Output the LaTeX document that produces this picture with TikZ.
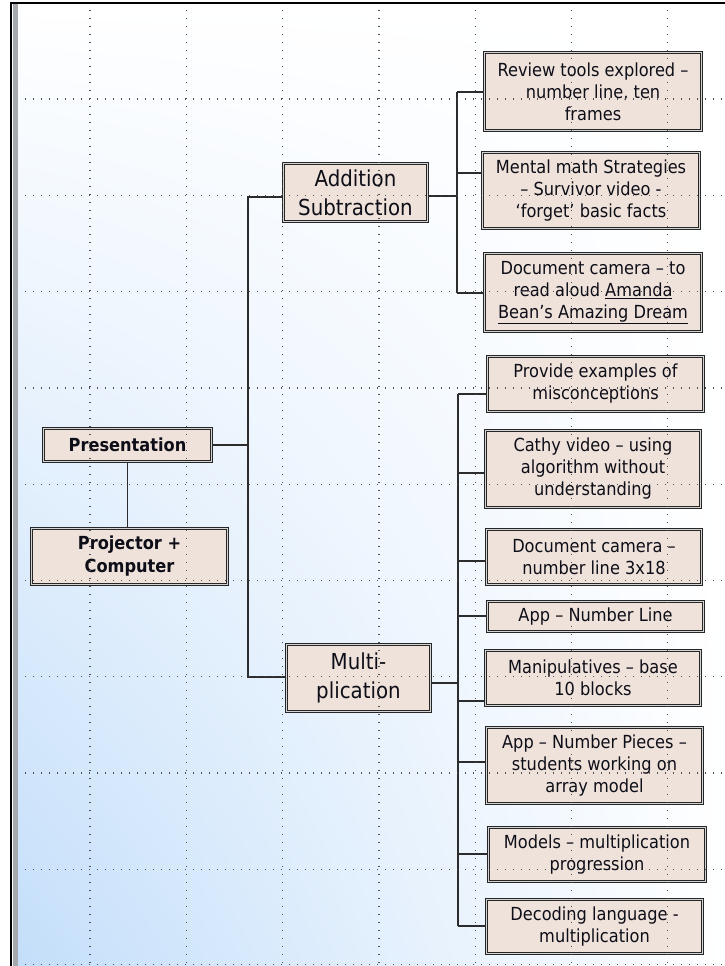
\documentclass[tikz,border=0pt]{standalone}
\usepackage{fontspec}
\usetikzlibrary{shadings}
\setmainfont{DejaVu Sans}[FakeStretch=0.9]
\definecolor{boxfill}{HTML}{EEE2DA}
\definecolor{boxline}{HTML}{262626}
\definecolor{boxgap}{HTML}{D4D4D4}
\definecolor{ink}{HTML}{0E0E18}
\definecolor{linegray}{HTML}{2C2C2C}
\definecolor{dotgray}{HTML}{505050}
\definecolor{skyblue}{HTML}{C3DEFA}
\definecolor{edgegray}{HTML}{A5A9AD}
\begin{document}
\begin{tikzpicture}[x=1pt,y=-1pt,
  conn/.style={draw=linegray, line width=1.4pt},
  box/.style={draw=boxline, double=boxgap, double distance=1.3pt, line width=1pt,
    fill=boxfill, inner sep=0pt, align=center, text=ink},
  small/.style={box, font=\fontsize{18}{22}\selectfont},
  big/.style={box, font=\fontsize{22}{29}\selectfont},
  heavy/.style={box, font=\bfseries\fontsize{18}{23}\selectfont},
  gridline/.style={draw=dotgray, line width=1.3pt, dash pattern=on 1.3pt off 6.7pt}]
\useasboundingbox (0,0) rectangle (725,966);

% page background with its blue wash
\fill[white] (0,0) rectangle (725,966);
\shade[upper left=white, upper right=white, lower left=skyblue, lower right=white]
  (13,3) rectangle (725,966);
\fill[edgegray] (12.5,3) rectangle (18,966);
\draw[black, line width=2pt] (11,2) -- (11,966);
\draw[black, line width=2pt] (10,3) -- (725,3);

% root and its device
\node[heavy, minimum width=168, minimum height=33] (pres) at (127.5,445) {Presentation};
\node[heavy, minimum width=196, minimum height=56] (proj) at (129.5,556.5) {Projector +\\Computer};

% topic boxes
\node[big, minimum width=144, minimum height=58] (add) at (355.5,192.5) {Addition\\Subtraction};
\node[big, minimum width=144, minimum height=67] (mul) at (358.5,678) {Multi-\\plication};

% addition / subtraction resources
\node[small, minimum width=217, minimum height=78] (review) at (593,91.5)
  {Review tools explored –\\number line, ten\\frames};
\node[small, minimum width=217, minimum height=76] (mental) at (591,190.5)
  {Mental math Strategies\\– Survivor video -\\‘forget’ basic facts};
\node[small, minimum width=217, minimum height=78] (camA) at (593,292.5)
  {Document camera – to\\read aloud \underline{Amanda}\\\underline{Bean’s Amazing Dream}};

% multiplication resources
\node[small, minimum width=216, minimum height=55] (prov) at (595.5,384)
  {Provide examples of\\misconceptions};
\node[small, minimum width=215, minimum height=77] (cathy) at (593,469)
  {Cathy video – using\\algorithm without\\understanding};
\node[small, minimum width=215, minimum height=55] (camB) at (594,557)
  {Document camera –\\number line 3x18};
\node[small, minimum width=216, minimum height=30] (appnl) at (595.5,616.5)
  {App – Number Line};
\node[small, minimum width=215, minimum height=55] (manip) at (593,678)
  {Manipulatives – base\\10 blocks};
\node[small, minimum width=216, minimum height=76] (appnp) at (594.5,765.5)
  {App – Number Pieces –\\students working on\\array model};
\node[small, minimum width=217, minimum height=54] (models) at (597,854.5)
  {Models – multiplication\\progression};
\node[small, minimum width=216, minimum height=54] (decod) at (594.5,926.5)
  {Decoding language -\\multiplication};

% trunk joints
\coordinate (pa) at (248,197);
\coordinate (pm) at (248,677);
\coordinate (aa) at (457,196);
\coordinate (a1) at (457,92);
\coordinate (a2) at (457,173);
\coordinate (a3) at (457,293);
\coordinate (mm) at (458,683);
\coordinate (m1) at (458,394);
\coordinate (m2) at (458,473);
\coordinate (m3) at (458,561);
\coordinate (m4) at (458,616);
\coordinate (m5) at (458,701);
\coordinate (m6) at (458,762);
\coordinate (m7) at (458,854);
\coordinate (m8) at (458,926);

% connectors from the root
\draw[conn] (pres.east) -- (pres.east -| pa);
\draw[conn] (add.west |- pa) -- (pa) -- (pm) -- (mul.west |- pm);
\draw[conn] (pres.south) -- (proj.north -| pres.south);

% connectors of the addition branch
\draw[conn] (add.east |- aa) -- (aa);
\draw[conn] (a1) -- (a3);
\draw[conn] (a1) -- (review.west |- a1);
\draw[conn] (a2) -- (mental.west |- a2);
\draw[conn] (a3) -- (camA.west |- a3);

% connectors of the multiplication branch
\draw[conn] (mul.east |- mm) -- (mm);
\draw[conn] (m1) -- (m8);
\draw[conn] (m1) -- (prov.west |- m1);
\draw[conn] (m2) -- (cathy.west |- m2);
\draw[conn] (m3) -- (camB.west |- m3);
\draw[conn] (m4) -- (appnl.west |- m4);
\draw[conn] (m5) -- (manip.west |- m5);
\draw[conn] (m6) -- (appnp.west |- m6);
\draw[conn] (m7) -- (models.west |- m7);
\draw[conn] (m8) -- (decod.west |- m8);

% dotted layout grid over everything
\foreach \gx in {90,186.3,282.6,378.9,475.2,571.5,667.8}
  \draw[gridline] (\gx,10) -- (\gx,964);
\foreach \gy in {99,195.3,291.6,387.9,484.2,580.5,676.8,773.1,869.4,964.5}
  \draw[gridline] (25,\gy) -- (725,\gy);
\end{tikzpicture}
\end{document}
